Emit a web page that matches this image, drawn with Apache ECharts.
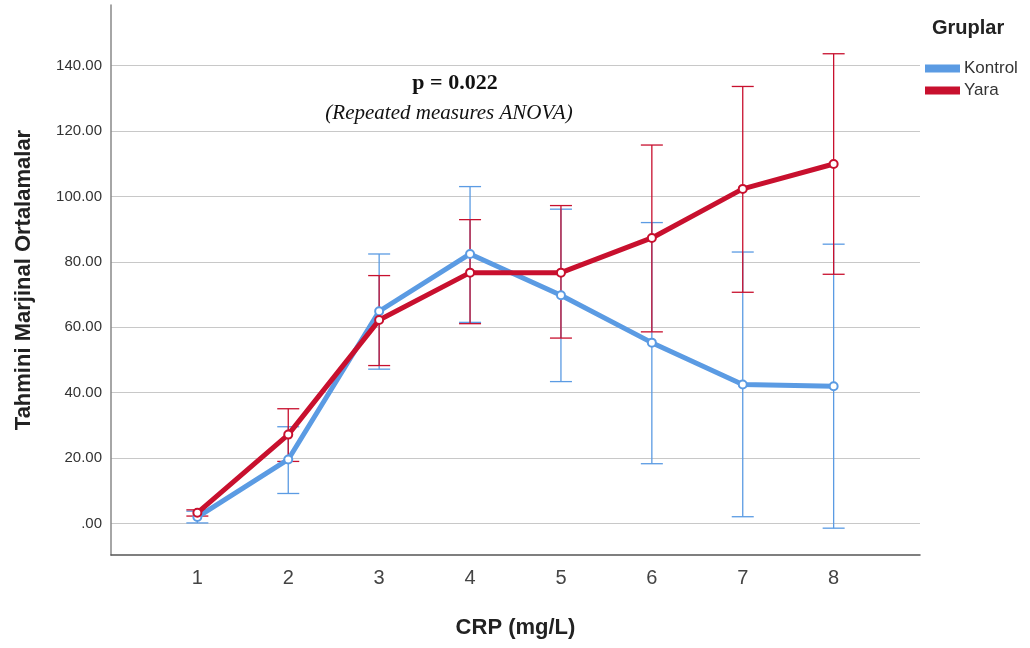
<!DOCTYPE html>
<html>
<head>
<meta charset="utf-8">
<script src="https://cdn.jsdelivr.net/npm/echarts@6/dist/echarts.min.js"></script>
<style>html,body{margin:0;padding:0;background:#fff;}#c{width:1030px;height:648px;}</style>
</head>
<body>
<div id="c"></div>
<script>
const categories = ['1', '2', '3', '4', '5', '6', '7', '8'];
const seriesNames = ['Kontrol', 'Yara'];
const kontrolMean = [2.0, 19.6, 64.9, 82.4, 69.8, 55.3, 42.5, 42.0];
const kontrolLow  = [0.2, 9.2, 47.2, 61.5, 43.4, 18.3, 2.1, -1.4];
const kontrolHigh = [3.8, 29.6, 82.4, 103.0, 96.1, 92.0, 83.0, 85.4];
const yaraMean = [3.3, 27.2, 62.2, 76.7, 76.7, 87.3, 102.3, 109.9];
const yaraLow  = [2.3, 19.0, 48.3, 61.1, 56.7, 58.6, 70.7, 76.2];
const yaraHigh = [4.2, 35.1, 75.8, 92.9, 97.2, 115.7, 133.6, 143.6];
const yTicks = [0, 20, 40, 60, 80, 100, 120, 140];
const xTicks = [1, 2, 3, 4, 5, 6, 7, 8];

const BLUE = '#5b9be3';
const RED = '#c8102e';

function pts(mean) { return categories.map((c, i) => [Number(c), mean[i]]); }
function bars(low, high) { return categories.map((c, i) => [Number(c), low[i], high[i]]); }

function errRender(color) {
  return function (params, api) {
    const x = api.value(0);
    const lo = api.coord([x, api.value(1)]);
    const hi = api.coord([x, api.value(2)]);
    const w = 11;
    const style = { stroke: color, lineWidth: 1.3 };
    return {
      type: 'group',
      children: [
        { type: 'line', shape: { x1: lo[0], y1: lo[1], x2: hi[0], y2: hi[1] }, style },
        { type: 'line', shape: { x1: lo[0] - w, y1: lo[1], x2: lo[0] + w, y2: lo[1] }, style },
        { type: 'line', shape: { x1: hi[0] - w, y1: hi[1], x2: hi[0] + w, y2: hi[1] }, style }
      ]
    };
  };
}

const chart = echarts.init(document.getElementById('c'), null, { renderer: 'canvas' });
chart.setOption({
  animation: false,
  backgroundColor: '#fff',
  grid: { left: 111, right: 110, top: 5, bottom: 93, containLabel: false },
  legend: {
    data: seriesNames,
    orient: 'vertical',
    left: 920,
    top: 55,
    itemWidth: 33,
    itemHeight: 6,
    itemGap: 5,
    icon: 'rect',
    textStyle: { fontFamily: 'Liberation Sans', fontSize: 17, color: '#333', padding: [0, 0, 0, 0] }
  },
  xAxis: {
    type: 'value',
    min: 0.05,
    max: 8.95,
    axisLine: { show: true, onZero: false, lineStyle: { color: '#555', width: 1.5 } },
    axisTick: { show: false },
    splitLine: { show: false },
    axisLabel: {
      customValues: xTicks,
      formatter: v => categories[v - 1],
      fontFamily: 'Liberation Sans Narrow, Liberation Sans',
      fontSize: 20,
      color: '#444',
      margin: 13
    },
    name: 'CRP (mg/L)',
    nameLocation: 'middle',
    nameGap: 62,
    nameTextStyle: { fontFamily: 'Liberation Sans', fontWeight: 'bold', fontSize: 22, color: '#222' }
  },
  yAxis: {
    type: 'value',
    min: -9.6,
    max: 158.5,
    axisLine: { show: true, lineStyle: { color: '#888', width: 1.5 } },
    axisTick: { show: false, customValues: yTicks },
    splitLine: { show: true, lineStyle: { color: '#c8c8c8', width: 1.2 } },
    axisLabel: {
      customValues: yTicks,
      formatter: v => (v === 0 ? '.00' : v.toFixed(2)),
      fontFamily: 'Liberation Sans',
      fontSize: 15,
      color: '#333',
      margin: 9
    },
    name: 'Tahmini Marjinal Ortalamalar',
    nameLocation: 'middle',
    nameGap: 76,
    nameTextStyle: { fontFamily: 'Liberation Sans', fontWeight: 'bold', fontSize: 22, color: '#222' }
  },
  graphic: [
    { type: 'text', left: 932, top: 18, style: { text: 'Gruplar', fontFamily: 'Liberation Sans', fontWeight: 'bold', fontSize: 20, fill: '#222' } },
    { type: 'text', x: 455, y: 83, style: { text: 'p = 0.022', textAlign: 'center', textVerticalAlign: 'middle', fontFamily: 'Liberation Serif', fontWeight: 'bold', fontSize: 22, fill: '#111' } },
    { type: 'text', x: 449, y: 113, style: { text: '(Repeated measures ANOVA)', textAlign: 'center', textVerticalAlign: 'middle', fontFamily: 'Liberation Serif', fontStyle: 'italic', fontSize: 21, fill: '#111' } }
  ],
  series: [
    { name: 'KontrolErr', type: 'custom', data: bars(kontrolLow, kontrolHigh), renderItem: errRender(BLUE), z: 2, silent: true },
    { name: 'YaraErr', type: 'custom', data: bars(yaraLow, yaraHigh), renderItem: errRender(RED), z: 2, silent: true },
    { name: 'Kontrol', type: 'line', data: pts(kontrolMean), color: BLUE, lineStyle: { width: 5, color: BLUE }, symbol: 'emptyCircle', symbolSize: 8, itemStyle: { color: BLUE, borderColor: BLUE, borderWidth: 1.2 }, z: 3 },
    { name: 'Yara', type: 'line', data: pts(yaraMean), color: RED, lineStyle: { width: 5, color: RED }, symbol: 'emptyCircle', symbolSize: 8, itemStyle: { color: RED, borderColor: RED, borderWidth: 1.2 }, z: 4 }
  ]
});
</script>
</body>
</html>
